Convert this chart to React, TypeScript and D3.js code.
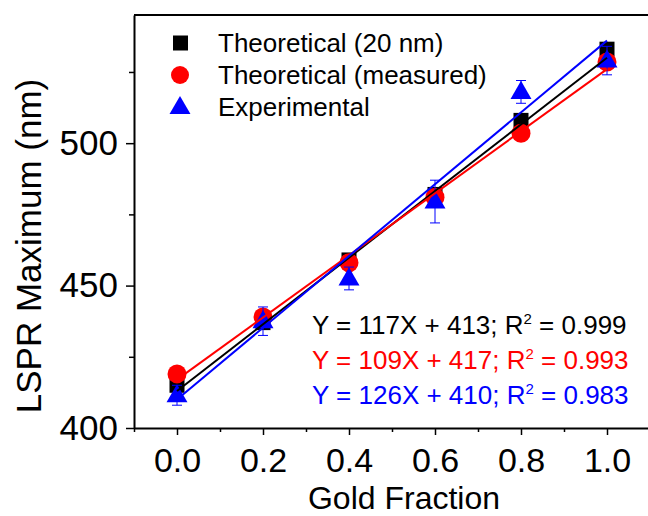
import React, { useEffect, useRef } from "react";
import * as d3 from "d3";

// gold fraction on x, LSPR peak position (nm) on y
const goldFraction = [0, 0.2, 0.4, 0.6, 0.8, 1.0];
const theoretical20 = [415, 437, 459, 482, 508, 533];
const theoreticalMeasured = [419, 439, 458, 481, 503.5, 528.5];
const experimental = [411.5, 437.5, 452.5, 479.5, 518, 529];
const experimentalErr = [3.5, 5, 4, 7.5, 4, 5];

const seriesNames = ["Theoretical (20 nm)", "Theoretical (measured)", "Experimental"];
const seriesColors = ["#000000", "#ff0000", "#0000ff"];
const fitSlope = [117, 109, 126];
const fitIntercept = [413, 417, 410];
const fitR2 = ["0.999", "0.993", "0.983"];

const xTicks = [0, 0.2, 0.4, 0.6, 0.8, 1.0];
const xMinorTicks = [-0.1, 0.1, 0.3, 0.5, 0.7, 0.9, 1.1];
const yTicks = [400, 450, 500];
const yMinorTicks = [425, 475, 525];

const FONT = "'Liberation Sans', Arial, sans-serif";

export default function App() {
  const ref = useRef<SVGSVGElement | null>(null);

  useEffect(() => {
    document.body.style.margin = "0";
    const width = 648, height = 516;
    const margin = { top: 15, right: -2, bottom: 88, left: 134 };

    const svg = d3.select(ref.current);
    svg.selectAll("*").remove();

    const x = d3.scaleLinear()
      .domain([-0.1, 1.1])
      .range([margin.left, width - margin.right]);
    const y = d3.scaleLinear()
      .domain([400, 545])
      .range([height - margin.bottom, margin.top]);

    // frame (top line)
    svg.append("line")
      .attr("x1", x(-0.1)).attr("x2", x(1.1))
      .attr("y1", y(545)).attr("y2", y(545))
      .attr("stroke", "#000").attr("stroke-width", 2);

    // x axis
    const gx = svg.append("g")
      .attr("transform", "translate(0," + y(400) + ")")
      .call(d3.axisBottom(x).tickValues(xTicks).tickSize(7).tickPadding(13)
        .tickFormat(d3.format(".1f")).tickSizeOuter(0));
    svg.append("g")
      .attr("transform", "translate(0," + y(400) + ")")
      .call(d3.axisBottom(x).tickValues(xMinorTicks).tickSize(4)
        .tickFormat(() => "").tickSizeOuter(0))
      .select(".domain").remove();

    // y axis
    const gy = svg.append("g")
      .attr("transform", "translate(" + x(-0.1) + ",0)")
      .call(d3.axisLeft(y).tickValues(yTicks).tickSize(8).tickPadding(8).tickSizeOuter(0));
    svg.append("g")
      .attr("transform", "translate(" + x(-0.1) + ",0)")
      .call(d3.axisLeft(y).tickValues(yMinorTicks).tickSize(5)
        .tickFormat(() => "").tickSizeOuter(0))
      .select(".domain").remove();

    svg.selectAll(".domain").attr("stroke-width", 2);
    svg.selectAll(".tick line").attr("stroke-width", 1.5);
    gx.selectAll("text")
      .style("font-family", FONT).style("font-size", "34px").attr("fill", "#000");
    gy.selectAll("text")
      .style("font-family", FONT).style("font-size", "35px").attr("fill", "#000");

    // axis titles
    svg.append("text")
      .attr("x", 404).attr("y", 509)
      .attr("text-anchor", "middle")
      .style("font-family", FONT).style("font-size", "32px")
      .text("Gold Fraction");
    svg.append("text")
      .attr("transform", "translate(41,246) rotate(-90)")
      .attr("text-anchor", "middle")
      .style("font-family", FONT).style("font-size", "35px")
      .text("LSPR Maximum (nm)");

    const pts = goldFraction.map((g, i) => ({ g, i }));

    // black squares
    svg.selectAll("rect.sq").data(pts).enter().append("rect")
      .attr("x", d => x(d.g) - 7.5).attr("y", d => y(theoretical20[d.i]) - 7.5)
      .attr("width", 15).attr("height", 15).attr("fill", seriesColors[0]);

    // red circles
    svg.selectAll("circle.ci").data(pts).enter().append("circle")
      .attr("cx", d => x(d.g)).attr("cy", d => y(theoreticalMeasured[d.i]))
      .attr("r", 9.5).attr("fill", seriesColors[1]);

    // blue triangles
    const tri = d3.symbol().type(d3.symbolTriangle).size(190);
    svg.selectAll("path.tr").data(pts).enter().append("path")
      .attr("d", tri)
      .attr("transform", d => "translate(" + x(d.g) + "," + (y(experimental[d.i]) + 1) + ")")
      .attr("fill", seriesColors[2]);

    // error bars on experimental points
    const eb = svg.append("g").attr("stroke", seriesColors[2]).attr("stroke-width", 1);
    pts.forEach(d => {
      const lo = y(experimental[d.i] - experimentalErr[d.i]);
      const hi = y(experimental[d.i] + experimentalErr[d.i]);
      const cx = x(d.g);
      eb.append("line").attr("x1", cx).attr("x2", cx).attr("y1", lo).attr("y2", hi);
      eb.append("line").attr("x1", cx - 5).attr("x2", cx + 5).attr("y1", lo).attr("y2", lo);
      eb.append("line").attr("x1", cx - 5).attr("x2", cx + 5).attr("y1", hi).attr("y2", hi);
    });

    // linear fits
    fitSlope.forEach((m, k) => {
      svg.append("line")
        .attr("x1", x(0)).attr("y1", y(fitIntercept[k]))
        .attr("x2", x(1)).attr("y2", y(fitIntercept[k] + m))
        .attr("stroke", seriesColors[k]).attr("stroke-width", 2);
    });

    // legend
    const leg = svg.append("g");
    seriesNames.forEach((name, k) => {
      const ly = 43 + k * 32;
      if (k === 0) {
        leg.append("rect").attr("x", 173).attr("y", ly - 7.5)
          .attr("width", 15).attr("height", 15).attr("fill", seriesColors[0]);
      } else if (k === 1) {
        leg.append("circle").attr("cx", 180).attr("cy", ly).attr("r", 9).attr("fill", seriesColors[1]);
      } else {
        leg.append("path").attr("d", tri)
          .attr("transform", "translate(180," + (ly + 1) + ")").attr("fill", seriesColors[2]);
      }
      leg.append("text")
        .attr("x", 218).attr("y", ly + 9)
        .style("font-family", FONT).style("font-size", "26px")
        .text(name);
    });

    // fit equations
    fitSlope.forEach((m, k) => {
      const t = svg.append("text")
        .attr("x", 312).attr("y", 334 + k * 35)
        .attr("fill", seriesColors[k])
        .style("font-family", FONT).style("font-size", "26px");
      t.append("tspan").text("Y = " + m + "X + " + fitIntercept[k] + "; R");
      t.append("tspan").attr("dy", -10).style("font-size", "15px").text("2");
      t.append("tspan").attr("dy", 10).text(" = " + fitR2[k]);
    });
  }, []);

  return (
    <svg ref={ref} width={648} height={516}
      style={{ display: "block", background: "#fff" }} />
  );
}
